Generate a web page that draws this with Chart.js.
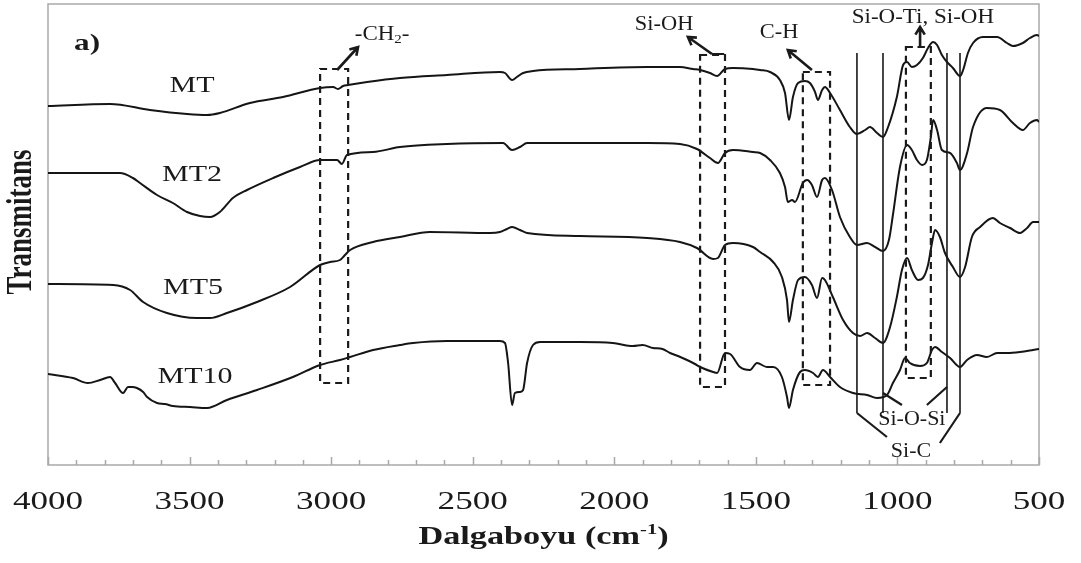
<!DOCTYPE html>
<html>
<head>
<meta charset="utf-8">
<script src="https://cdn.jsdelivr.net/npm/chart.js@4.4.1/dist/chart.umd.min.js"></script>
<style>
  html, body { margin: 0; padding: 0; background: #fff; }
  canvas { display: block; }
</style>
</head>
<body>
<canvas id="ftir" width="1081" height="563"></canvas>
<script>
// --- data (wavenumber cm-1, transmittance in arbitrary offset units) ---
const seriesNames = ['MT', 'MT2', 'MT5', 'MT10'];

const mtWave = [4000,3781,3640,3509,3438,3393,3287,3170,3039,2993,2976,2958,2940,2873,2757,2591,2404,2386,2361,2344,2322,2287,2121,1884,1768,1722,1697,1662,1637,1609,1581,1510,1485,1450,1415,1397,1383,1369,1351,1327,1309,1291,1281,1266,1256,1238,1203,1168,1143,1114,1097,1072,1051,1033,1002,980,966,949,931,910,892,874,860,843,825,804,779,768,751,733,698,648,613,592,557,532,507,500];
const mtValues = [359,361,355,351,350,352,362,368,377,378,376,379,380,383,387,390,393,392,385,388,392,394,396,398,398,396,395,392,389,396,397,396,395,393,385,372,345,368,382,384,382,373,365,375,378,372,355,338,331,335,338,332,328,338,368,400,403,398,400,407,417,423,420,410,403,397,389,395,412,422,428,428,422,419,422,427,430,429];

const mt2Wave = [4000,3746,3700,3675,3615,3559,3509,3463,3428,3393,3347,3297,3205,3110,3039,2979,2962,2944,2852,2757,2591,2393,2361,2333,2308,2121,1884,1768,1708,1662,1634,1609,1581,1510,1485,1450,1415,1397,1387,1372,1362,1334,1319,1302,1284,1266,1256,1231,1203,1168,1143,1107,1079,1051,1030,1016,991,966,949,931,913,896,882,874,860,843,814,790,779,754,733,684,638,592,557,532,507,500];
const mt2Values = [292,292,287,282,270,262,253,249,248,253,267,275,287,298,305,305,301,310,313,318,321,322,315,318,322,322,322,321,316,307,302,312,315,313,312,305,292,278,263,265,263,282,285,280,268,285,287,275,248,228,220,222,218,214,225,250,298,320,315,305,300,305,328,345,335,315,312,302,295,312,338,357,355,342,335,342,345,343];

const mt5Wave = [4000,3770,3710,3664,3580,3474,3428,3368,3262,3145,3039,3004,2969,2951,2933,2852,2757,2651,2439,2404,2379,2361,2333,2308,2121,1884,1768,1708,1651,1634,1609,1581,1510,1485,1439,1408,1390,1383,1369,1351,1327,1302,1284,1266,1256,1228,1192,1157,1132,1107,1079,1051,1026,1002,984,966,949,927,910,892,878,867,850,832,804,779,761,737,708,663,638,602,567,542,521,500];
const mt5Values = [181,180,175,163,152,147,147,152,163,178,200,203,205,210,215,223,228,233,232,233,236,238,235,232,229,227,223,217,206,207,220,222,218,213,203,188,165,143,165,185,188,180,167,187,185,168,145,132,129,132,127,122,138,168,195,207,195,185,187,200,222,235,228,212,198,188,198,228,238,247,242,237,232,237,243,243];

const mt10Wave = [4000,3912,3859,3816,3781,3763,3735,3717,3703,3686,3664,3650,3615,3587,3559,3498,3438,3368,3262,3135,3039,2969,2933,2852,2757,2711,2591,2404,2386,2375,2361,2351,2333,2322,2308,2287,2262,2121,2005,1934,1900,1863,1830,1803,1775,1743,1715,1697,1651,1637,1609,1591,1556,1521,1496,1461,1439,1408,1390,1383,1369,1344,1327,1298,1281,1263,1238,1203,1157,1107,1072,1037,1016,991,973,956,920,896,878,867,843,814,779,754,719,684,648,613,567,521,500];
const mt10Values = [91,87,82,85,88,82,72,78,78,77,73,68,62,61,59,58,57,65,75,88,100,105,108,115,120,122,124,124,122,102,60,72,73,75,102,120,123,123,122,119,120,117,116,112,109,105,101,98,93,92,112,111,98,95,102,98,98,88,68,57,75,93,95,92,88,95,88,78,72,70,67,70,82,95,107,102,99,102,115,118,113,107,98,105,110,108,112,112,113,115,116];

const xTickValues = [4000, 3500, 3000, 2500, 2000, 1500, 1000, 500];
const xTickLabels = ['4000', '3500', '3000', '2500', '2000', '1500', '1000', '500'];

const waves = [mtWave, mt2Wave, mt5Wave, mt10Wave];
const values = [mtValues, mt2Values, mt5Values, mt10Values];

// --- annotation marks, in data units (wavenumber, transmittance) ---
const dashedBoxes = [[3039, 2940, 396, 82], [1697, 1609, 410, 78], [1334, 1238, 393, 80], [970, 882, 418, 87]];
const bandLines = [1143, 1051, 825, 779];
const arrows = [[2979, 395, 2905, 418], [1655, 411, 1740, 428], [1302, 395, 1387, 415], [920, 418, 920, 438]];
const segments = [[1655, 411, 1612, 411], [929, 418, 912, 418], [1051, 72, 984, 60], [825, 78, 896, 60], [1143, 52, 1037, 28], [779, 52, 850, 22]];
const seriesLabelPos = [[3491, 379], [3491, 290], [3488, 177], [3481, 88]];

const FONT = "'Liberation Serif', 'Times New Roman', serif";

// draws text made of several parts (sub/superscripts) stretched horizontally like the original figure
function drawRich(ctx, parts, cx, cy, sx) {
  ctx.save();
  ctx.translate(cx, cy);
  ctx.scale(sx, 1);
  ctx.textBaseline = 'middle';
  ctx.textAlign = 'left';
  let total = 0;
  parts.forEach(p => {
    ctx.font = (p.bold ? 'bold ' : '') + p.size + 'px ' + FONT;
    p.w = ctx.measureText(p.t).width;
    total += p.w;
  });
  let x = -total / 2;
  parts.forEach(p => {
    ctx.font = (p.bold ? 'bold ' : '') + p.size + 'px ' + FONT;
    ctx.fillText(p.t, x, p.dy || 0);
    x += p.w;
  });
  ctx.restore();
}

function drawArrow(ctx, x1, y1, x2, y2) {
  ctx.beginPath();
  ctx.moveTo(x1, y1);
  ctx.lineTo(x2, y2);
  const a = Math.atan2(y2 - y1, x2 - x1);
  const h = 9;
  ctx.moveTo(x2 - h * Math.cos(a - 0.55), y2 - h * Math.sin(a - 0.55));
  ctx.lineTo(x2, y2);
  ctx.lineTo(x2 - h * Math.cos(a + 0.55), y2 - h * Math.sin(a + 0.55));
  ctx.stroke();
}

const figurePlugin = {
  id: 'figurePlugin',
  beforeDatasetsDraw(chart) {
    const { ctx, chartArea: a, scales: { x } } = chart;
    ctx.save();
    ctx.strokeStyle = '#a9a9a9';
    ctx.lineWidth = 1.5;
    ctx.strokeRect(a.left, a.top, a.right - a.left, a.bottom - a.top);
    // inward tick marks every 100 cm-1
    ctx.beginPath();
    for (let v = 500; v <= 4000; v += 100) {
      const px = Math.round(x.getPixelForValue(v)) + 0.5;
      const len = v % 500 === 0 ? 8 : 5;
      ctx.moveTo(px, a.bottom);
      ctx.lineTo(px, a.bottom - len);
    }
    ctx.stroke();
    ctx.restore();
  },
  afterDatasetsDraw(chart) {
    const { ctx, chartArea: a, scales: { x, y } } = chart;
    const X = v => x.getPixelForValue(v);
    const Y = v => y.getPixelForValue(v);
    ctx.save();
    ctx.strokeStyle = '#1a1a1a';
    ctx.fillStyle = '#1a1a1a';

    // dashed boxes
    ctx.lineWidth = 2.2;
    ctx.setLineDash([7, 5]);
    dashedBoxes.forEach(b => {
      ctx.strokeRect(X(b[0]), Y(b[2]), X(b[1]) - X(b[0]), Y(b[3]) - Y(b[2]));
    });
    ctx.setLineDash([]);

    // solid band lines
    ctx.lineWidth = 1.6;
    ctx.beginPath();
    bandLines.forEach(w => {
      ctx.moveTo(X(w), Y(412));
      ctx.lineTo(X(w), Y(52));
    });
    ctx.stroke();

    ctx.lineWidth = 2.2;
    ctx.beginPath();
    segments.forEach(s => {
      ctx.moveTo(X(s[0]), Y(s[1]));
      ctx.lineTo(X(s[2]), Y(s[3]));
    });
    ctx.stroke();

    ctx.lineWidth = 2.6;
    arrows.forEach(r => drawArrow(ctx, X(r[0]), Y(r[1]), X(r[2]), Y(r[3])));

    // annotation texts
    drawRich(ctx, [{ t: 'a)', size: 24, bold: true }], X(3862), Y(421), 1.3);
    drawRich(ctx, [{ t: '-CH', size: 20 }, { t: '2', size: 13, dy: 5 }, { t: '-', size: 20 }], X(2820), Y(430), 1.15);
    drawRich(ctx, [{ t: 'Si-OH', size: 20 }], X(1824), Y(440), 1.12);
    drawRich(ctx, [{ t: 'C-H', size: 20 }], X(1418), Y(432), 1.12);
    drawRich(ctx, [{ t: 'Si-O-Ti, Si-OH', size: 20 }], X(910), Y(447), 1.15);
    drawRich(ctx, [{ t: 'Si-O-Si', size: 20 }], X(949), Y(45), 1.1);
    drawRich(ctx, [{ t: 'Si-C', size: 20 }], X(952), Y(13), 1.1);

    seriesNames.forEach((n, i) => {
      drawRich(ctx, [{ t: n, size: 24 }], X(seriesLabelPos[i][0]), Y(seriesLabelPos[i][1]), 1.25);
    });

    // x tick labels and axis title
    xTickValues.forEach((v, i) => {
      drawRich(ctx, [{ t: xTickLabels[i], size: 26 }], X(v), 502, 1.35);
    });
    drawRich(ctx, [{ t: 'Dalgaboyu (cm', size: 25, bold: true }, { t: '-1', size: 15, bold: true, dy: -8 }, { t: ')', size: 25, bold: true }],
      (a.left + a.right) / 2, 538, 1.37);

    // y axis title
    ctx.save();
    ctx.translate(22, 222);
    ctx.rotate(-Math.PI / 2);
    ctx.scale(1, 1.35);
    ctx.font = 'bold 27px ' + FONT;
    ctx.textAlign = 'center';
    ctx.textBaseline = 'middle';
    ctx.fillText('Transmitans', 0, 0);
    ctx.restore();

    ctx.restore();
  }
};

const chart = new Chart(document.getElementById('ftir').getContext('2d'), {
  type: 'line',
  data: {
    datasets: seriesNames.map((name, i) => ({
      label: name,
      data: waves[i].map((w, j) => ({ x: w, y: values[i][j] })),
      borderColor: '#151515',
      borderWidth: 2,
      pointRadius: 0,
      cubicInterpolationMode: 'monotone',
      fill: false
    }))
  },
  options: {
    responsive: false,
    animation: false,
    devicePixelRatio: 1,
    layout: { padding: { left: 48, top: 4, right: 42, bottom: 98 } },
    plugins: { legend: { display: false }, tooltip: { enabled: false } },
    scales: {
      x: { type: 'linear', reverse: true, min: 500, max: 4000, display: false },
      y: { min: 0, max: 461, display: false }
    }
  },
  plugins: [figurePlugin]
});
</script>
</body>
</html>
